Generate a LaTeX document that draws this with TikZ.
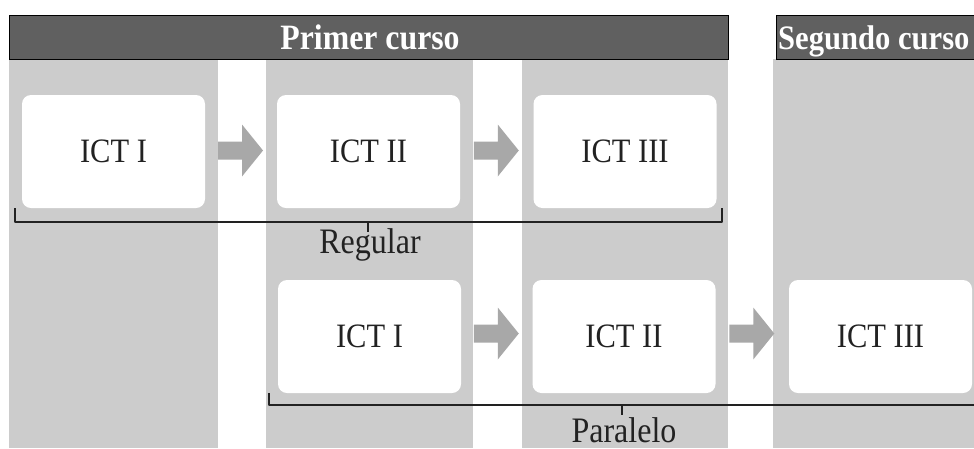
\documentclass[tikz,border=0pt]{standalone}
\usepackage{fontspec}
\setmainfont{Liberation Serif}
\usetikzlibrary{calc}
\definecolor{colgray}{HTML}{CCCCCC}
\definecolor{bargray}{HTML}{606060}
\definecolor{arrowgray}{HTML}{A8A8A8}
\definecolor{ink}{HTML}{222222}
\newcommand{\tallt}[1]{\scalebox{1}[1.12]{#1}}
\begin{document}
\begin{tikzpicture}[x=1pt,y=-1pt,
  column/.style={fill=colgray},
  headbar/.style={fill=bargray,draw=black,line width=1pt},
  headtext/.style={text=white,font=\fontsize{31.8}{38}\bfseries\selectfont,inner sep=0pt},
  box/.style={fill=white,rounded corners=9pt,minimum width=183pt,minimum height=113pt,inner sep=0pt,
    text=ink,font=\fontsize{30.5}{36}\selectfont},
  bracelabel/.style={text=ink,font=\fontsize{32}{38}\selectfont,inner sep=0pt,anchor=base},
  brace/.style={draw=ink,line width=1.3pt,line join=round},
  blockarrow/.pic={\fill[arrowgray] (-23,-9) -- (1,-9) -- (1,-26) -- (22,0) -- (1,26) -- (1,9) -- (-23,9) -- cycle;}
]
\clip (0,0) rectangle (974,448);
\fill[white] (0,0) rectangle (974,448);
% columns
\fill[column] (9,59) rectangle (218,448);
\fill[column] (266,59) rectangle (473,448);
\fill[column] (522,59) rectangle (728,448);
\fill[column] (773,59) rectangle (990,448);
% header bars
\draw[headbar] (9,15) rectangle (728,59);
\draw[headbar] (776,15) rectangle (995,59);
\node[headtext,anchor=base] (h1) at (370,49) {\tallt{Primer curso}};
\node[headtext,anchor=base west,font=\fontsize{30.6}{36}\bfseries\selectfont] (h2) at (778,49) {\tallt{Segundo curso}};
% row 1 (Regular)
\node[box] (r1) at (113.5,151.5) {\tallt{ICT I}};
\node[box] (r2) at (368.5,151.5) {\tallt{ICT II}};
\node[box] (r3) at (625,151.5) {\tallt{ICT III}};
% row 2 (Paralelo)
\node[box] (p1) at (369.5,336.5) {\tallt{ICT I}};
\node[box] (p2) at (624,336.5) {\tallt{ICT II}};
\node[box] (p3) at (880.5,336.5) {\tallt{ICT III}};
% arrows
\pic at ($(r1.east)!0.5!(r2.west)+(0,-1)$) {blockarrow};
\pic at ($(r2.east)!0.5!(r3.west)+(0,-1)$) {blockarrow};
\pic at ($(p1.east)!0.5!(p2.west)+(0,-3)$) {blockarrow};
\pic at ($(p2.east)!0.5!(p3.west)+(0,-3)$) {blockarrow};
% bracket Regular
\coordinate (rgL) at (15,222);
\coordinate (rgR) at (722,222);
\coordinate (rgM) at (368,222);
\node[bracelabel] (reg) at (370,253) {\tallt{Regular}};
\draw[brace] ($(rgL)+(0,-14)$) -- (rgL) -- (rgR) -- ($(rgR)+(0,-14)$);
\draw[brace] (rgM) -- ++(0,10);
% bracket Paralelo
\coordinate (paL) at (269,405);
\coordinate (paR) at (975,405);
\coordinate (paM) at (622,405);
\node[bracelabel] (par) at (624,442) {\tallt{Paralelo}};
\draw[brace] ($(paL)+(0,-12)$) -- (paL) -- (paR) -- ($(paR)+(0,-12)$);
\draw[brace] (paM) -- ++(0,10);
\end{tikzpicture}
\end{document}
